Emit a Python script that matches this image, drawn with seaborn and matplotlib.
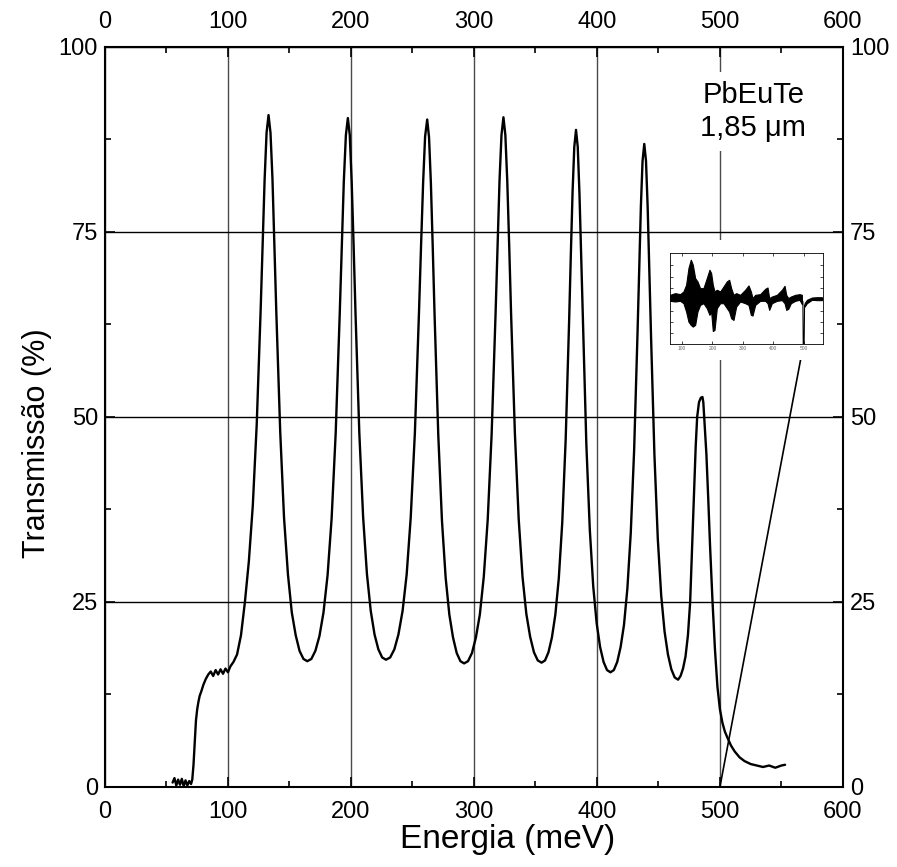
import matplotlib
matplotlib.use("Agg")
import matplotlib.pyplot as plt
import seaborn as sns
import pandas as pd
from matplotlib.patches import ConnectionPatch, Rectangle
from matplotlib.ticker import MultipleLocator

# ---------------- data ----------------
energy = [55, 56.5, 58, 59.5, 61, 62.5, 64, 65.5, 67, 68.5, 70, 71, 72, 73, 74, 75, 76, 77, 78.5, 80,
          82, 84, 86, 88, 90, 92, 94, 96, 98, 100, 102, 104.5, 107.4, 110.6, 113.8, 117, 120.2, 123.4,
          126.6, 128.2, 129.8, 131.4, 133,
          134.6, 136.2, 137.7, 139.3, 142.5, 145.6, 148.8, 151.9, 155.1, 158.2, 161.4, 164.5,
          167.8, 171.1, 174.4, 177.7, 181, 184.3, 187.6, 190.9, 192.6, 194.2, 195.9, 197.5,
          199.05, 200.6, 202.15, 203.7, 206.8, 209.9, 213, 216.1, 219.2, 222.3, 225.4, 228.5,
          231.9, 235.3, 238.6, 242.0, 245.3, 248.6, 252.0, 255.3, 257.0, 258.7, 260.3, 262,
          263.5, 265, 266.5, 268, 271, 274, 277, 280, 283, 286, 289, 292,
          295.2, 298.4, 301.6, 304.8, 308, 311.2, 314.4, 317.6, 319.2, 320.8, 322.4, 324,
          325.55, 327.1, 328.65, 330.2, 333.3, 336.4, 339.5, 342.6, 345.7, 348.8, 351.9, 355,
          357.8, 360.6, 363.4, 366.2, 369, 371.8, 374.6, 377.4, 378.8, 380.2, 381.6, 383,
          384.4, 385.8, 387.2, 388.6, 391.4, 394.2, 397, 399.8, 402.6, 405.4, 408.2, 411,
          413.75, 416.5, 419.25, 422, 424.75, 427.5, 430.25, 433, 434.4, 435.75, 437.1, 438.5,
          439.9, 441.25, 442.6, 444, 446.75, 449.5, 452.25, 455, 457.75, 460.5, 463.25, 466,
          468, 470, 472, 474, 475.8, 477.5, 479, 480.3, 481.5, 483, 484.5, 485.8,
          486.5, 487.2, 489, 490.5, 492, 494, 496, 498, 500, 502, 504, 506, 509, 512, 516, 520,
          525, 530, 535, 540, 545, 550, 553]
transmission = [0.6, 1.2, 0.2, 1.0, 0.3, 1.1, 0.1, 0.9, 0.2, 0.8, 0.4, 1.0, 3.0, 6.0, 9.0, 10.5, 11.5, 12.3, 13.0, 13.8,
                14.6, 15.2, 15.6, 15.0, 15.8, 15.2, 15.9, 15.3, 16.0, 15.5, 16.3, 16.9, 17.9, 20.5, 25.0, 30.5, 38.0, 49.0,
                64.5, 73.5, 82.0, 88.4, 90.8,
                88.4, 82.2, 73.5, 64.3, 48.0, 36.4, 28.7, 23.6, 20.5, 18.4, 17.3, 17.0,
                17.3, 18.4, 20.4, 23.6, 28.6, 36.3, 47.8, 64.0, 73.2, 81.8, 88.1, 90.4,
                88.1, 81.8, 73.3, 64.1, 47.9, 36.5, 28.8, 23.8, 20.6, 18.6, 17.5, 17.2,
                17.5, 18.6, 20.6, 23.8, 28.7, 36.4, 47.9, 64.0, 73.1, 81.7, 87.9, 90.2,
                87.8, 81.6, 73.0, 63.8, 47.6, 36.0, 28.3, 23.3, 20.2, 18.1, 17.0, 16.7,
                17.0, 18.1, 20.2, 23.3, 28.4, 36.1, 47.7, 64.0, 73.2, 81.9, 88.1, 90.5,
                88.1, 81.9, 73.3, 64.0, 47.8, 36.2, 28.4, 23.4, 20.3, 18.2, 17.1, 16.8,
                17.1, 18.2, 20.2, 23.3, 28.2, 35.7, 47.0, 63.0, 72.0, 80.4, 86.5, 88.8,
                86.5, 80.2, 71.6, 62.5, 46.3, 34.8, 27.1, 22.1, 18.9, 16.9, 15.8, 15.5,
                15.8, 16.9, 18.9, 21.9, 26.8, 34.3, 45.5, 61.3, 70.2, 78.5, 84.6, 86.9,
                84.6, 78.4, 70.0, 60.9, 44.9, 33.5, 25.9, 21.0, 17.9, 15.9, 14.8, 14.5,
                15.0, 16.0, 17.6, 20.5, 25.0, 33.0, 40.0, 46.0, 50.0, 52.0, 52.6, 52.7,
                52.0, 50.0, 45.0, 39.0, 32.5, 25.0, 18.5, 13.5, 10.5, 8.7, 7.5, 6.7, 5.6, 4.8, 4.0, 3.5,
                3.1, 2.9, 2.7, 2.9, 2.6, 2.9, 3.0]

# inset: noisy signal shown as a band (upper / lower envelope)
inset_energy = [60.4, 76.9, 93.4, 104.4, 113.2, 120.9, 128.6, 135.2, 142.9, 150.5, 159.3, 170.3,
                181.3, 190.1, 195.6, 201.1, 206.6, 214.3, 225.3, 236.3, 247.3, 254.9, 261.5, 269.2,
                278.0, 291.2, 307.7, 318.7, 326.4, 331.9, 340.7, 357.1, 373.6, 381.3, 386.8, 395.6,
                412.1, 428.6, 437.4, 442.9, 449.5, 458.2, 472.5, 486.8, 494.5]
inset_upper = [0.40, 0.55, 0.46, 0.70, 1.29, 2.77, 3.51, 3.07, 1.88, 1.59, 0.99, 0.99,
               1.88, 2.62, 2.33, 1.29, 0.70, 0.85, 0.70, 1.14, 1.59, 1.73, 0.99, 0.40,
               0.55, 0.40, 0.85, 1.23, 0.70, 0.11, 0.40, 0.46, 0.93, 1.05, 0.11, 0.25,
               0.40, 0.85, 1.20, 0.40, 0.11, 0.25, 0.40, 0.46, 0.40]
inset_lower = [-0.13, -0.19, -0.13, -0.34, -1.08, -1.97, -2.26, -2.41, -2.26, -1.08, -0.49, -0.34,
               -0.78, -1.37, -1.08, -2.80, -2.71, -0.78, -0.34, -0.34, -0.78, -1.08, -1.67, -1.82,
               -0.64, -0.19, -0.34, -0.49, -1.37, -1.43, -0.49, -0.13, -0.13, -0.34, -0.93, -0.34,
               -0.13, -0.07, -0.34, -0.93, -0.84, -0.34, -0.13, -0.04, -0.43]
inset_tail_energy = [503.3, 511.0, 527.5, 543.9, 560.4]
inset_tail_upper = [-0.34, -0.04, 0.16, 0.19, 0.19]
inset_tail_lower = [-0.64, -0.34, -0.04, -0.07, -0.07]
drop_energy = [494.5, 497.8, 499.5, 501.0, 503.3]
drop_signal = [0.0, -0.2, -6.0, -6.0, -0.5]

x_ticks = [0, 100, 200, 300, 400, 500, 600]
y_ticks = [0, 25, 50, 75, 100]
inset_x_ticks = [100, 200, 300, 400, 500]
inset_y_ticks = [-3, -2, -1, 0, 1, 2, 3]
sample_label = "PbEuTe\n1,85 \u03bcm"

# ---------------- figure ----------------
sns.set_theme(style="ticks")
plt.rcParams['font.family'] = ['Liberation Sans', 'DejaVu Sans']
plt.rcParams.update({"text.color": "black", "axes.labelcolor": "black",
                     "xtick.color": "black", "ytick.color": "black",
                     "axes.edgecolor": "black"})

fig = plt.figure(figsize=(8.97, 8.67), dpi=100)
ax = fig.add_axes([0.117, 0.0923, 0.8227, 0.8535])
ax.set_zorder(0)

df = pd.DataFrame({"Energia": energy, "Transmissao": transmission})
sns.lineplot(data=df, x="Energia", y="Transmissao", ax=ax, color="black", lw=1.7,
             estimator=None, sort=False, zorder=3)

ax.set_xlim(0, 600)
ax.set_ylim(0, 100)
ax.set_xticks(x_ticks)
ax.set_yticks(y_ticks)
ax.xaxis.set_minor_locator(MultipleLocator(50))
ax.yaxis.set_minor_locator(MultipleLocator(12.5))
ax.grid(axis="x", which="major", color="#4a4a4a", lw=1.0)
ax.grid(axis="y", which="major", color="black", lw=1.0)
ax.tick_params(which="both", direction="in", top=True, right=True,
               labeltop=True, labelright=True, labelsize=17, color="black", width=1.2,
               labelcolor="black")
ax.tick_params(which="major", length=7)
ax.tick_params(axis="x", which="major", pad=10)
ax.tick_params(axis="y", which="major", pad=5)
ax.tick_params(which="minor", length=4)
for s in ax.spines.values():
    s.set_linewidth(1.5)
    s.set_color("black")

ax.set_xlabel("Energia (meV)", fontsize=24)
ax.set_ylabel("Transmiss\u00e3o (%)", fontsize=22)
ax.xaxis.set_label_coords(0.545, -0.05)
ax.yaxis.set_label_coords(-0.072, 0.465)

ax.text(527, 91.3, sample_label, ha="center", va="center", fontsize=21, linespacing=1.25,
        color="black", zorder=5, bbox=dict(fc="white", ec="none", pad=6))

# inset
inset = fig.add_axes([0.7469, 0.6032, 0.1706, 0.1050])
inset.set_zorder(3)
inset.fill_between(inset_energy, inset_lower, inset_upper, color="black", lw=0.8)
inset.fill_between(inset_tail_energy, inset_tail_lower, inset_tail_upper, color="black", lw=0.8)
sns.lineplot(x=drop_energy, y=drop_signal, ax=inset, color="black", lw=0.8, estimator=None, sort=False)
inset.set_xlim(60, 564)
inset.set_ylim(-3.95, 4.1)
inset.set_xticks(inset_x_ticks)
inset.set_yticks(inset_y_ticks)
inset.set_yticklabels([])
inset.tick_params(direction="in", top=True, right=True, length=2, width=0.5,
                  labelsize=3.5, labelcolor="#666666", pad=1.5)
inset.set_xlabel("")
inset.set_ylabel("")
for s in inset.spines.values():
    s.set_linewidth(0.6)
    s.set_color("black")

# white background behind the inset
bg = Rectangle((0.738, 0.5848), 0.195, 0.1384, transform=fig.transFigure,
               fc="white", ec="none", zorder=2)
fig.add_artist(bg)

con = ConnectionPatch(xyA=(500, 0), coordsA=ax.transData,
                      xyB=(500, -3.95), coordsB=inset.transData,
                      color="black", lw=1.2, zorder=1)
fig.add_artist(con)

fig.savefig("out.png", dpi=100)
